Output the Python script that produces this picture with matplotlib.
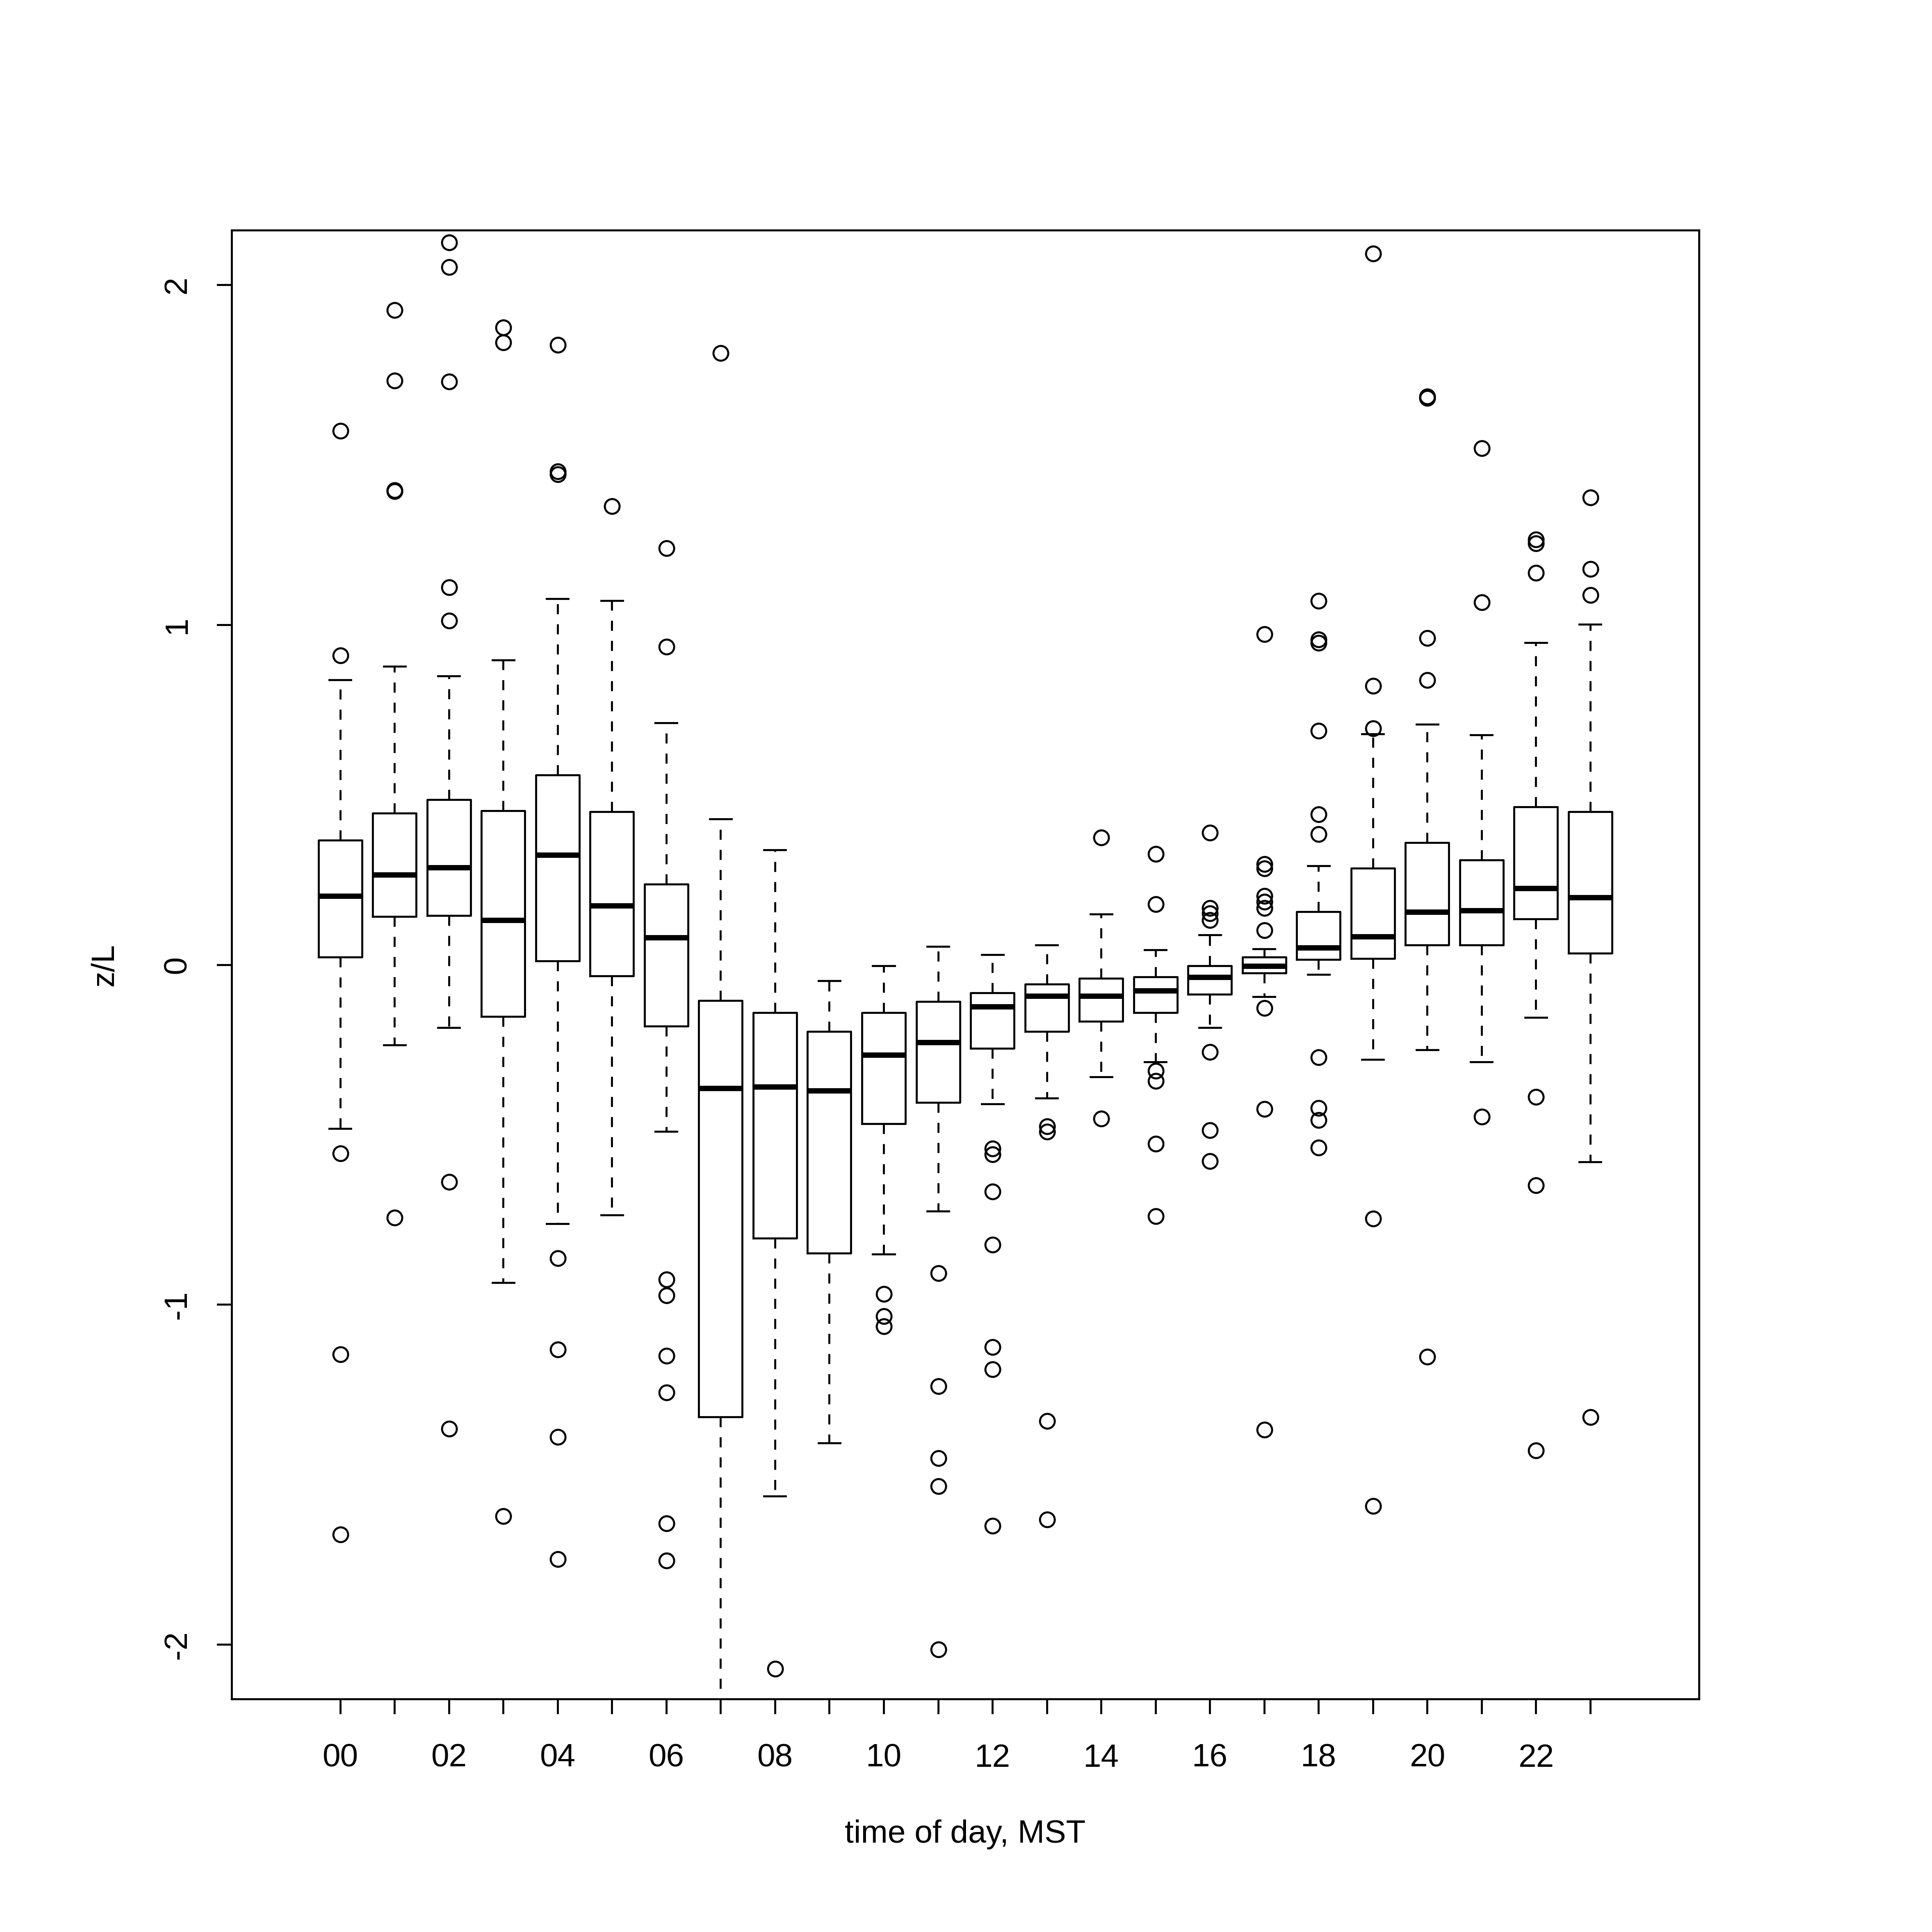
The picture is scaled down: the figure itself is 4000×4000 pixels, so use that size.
import matplotlib
matplotlib.use("Agg")
import matplotlib.pyplot as plt

plt.rcParams["font.family"] = ["Liberation Sans", "DejaVu Sans"]

# hour-of-day groups
hours = list(range(24))
hour_labels = ["%02d" % h for h in hours]

# box statistics per hour
whishi = [0.838, 0.878, 0.849, 0.896, 1.077, 1.070, 0.711, 0.428, 0.337, -0.047, -0.004, 0.054,
          0.029, 0.058, 0.149, 0.044, 0.087, 0.047, 0.290, 0.678, 0.707, 0.675, 0.947, 1.001]
q3 = [0.366, 0.446, 0.486, 0.453, 0.558, 0.450, 0.236, -0.105, -0.141, -0.196, -0.141, -0.109,
      -0.083, -0.058, -0.040, -0.036, -0.004, 0.022, 0.156, 0.283, 0.359, 0.308, 0.464, 0.450]
med = [0.203, 0.265, 0.286, 0.131, 0.323, 0.174, 0.080, -0.363, -0.359, -0.370, -0.265, -0.228,
       -0.123, -0.091, -0.091, -0.076, -0.036, -0.004, 0.051, 0.083, 0.156, 0.160, 0.225, 0.199]
q1 = [0.022, 0.141, 0.145, -0.152, 0.011, -0.033, -0.181, -1.331, -0.805, -0.849, -0.468, -0.406,
      -0.247, -0.196, -0.167, -0.141, -0.087, -0.025, 0.015, 0.018, 0.058, 0.058, 0.134, 0.033]
whislo = [-0.482, -0.236, -0.185, -0.936, -0.762, -0.736, -0.490, -2.30, -1.563, -1.407, -0.852, -0.725,
          -0.410, -0.392, -0.330, -0.286, -0.185, -0.094, -0.029, -0.279, -0.250, -0.286, -0.156, -0.580]

outliers = [
    [0.910, 1.570, -0.555, -1.146, -1.675],
    [1.926, 1.719, 1.396, 1.393, -0.743],
    [2.125, 2.053, 1.715, 1.110, 1.012, -0.638, -1.364],
    [1.875, 1.831, -1.621],
    [1.824, 1.451, 1.443, -0.863, -1.131, -1.389, -1.748],
    [1.349],
    [1.226, 0.936, -0.925, -0.972, -1.150, -1.258, -1.643, -1.752],
    [1.799],
    [-2.071],
    [],
    [-0.968, -1.034, -1.063],
    [-0.907, -1.240, -1.451, -1.534, -2.013],
    [-0.540, -0.558, -0.667, -0.823, -1.124, -1.189, -1.650],
    [-0.475, -0.490, -1.342, -1.632],
    [0.374, -0.453],
    [0.326, 0.178, -0.312, -0.341, -0.526, -0.740],
    [0.388, 0.167, 0.152, 0.131, -0.257, -0.486, -0.577],
    [0.972, 0.297, 0.283, 0.203, 0.185, 0.167, 0.102, -0.127, -0.424, -1.367],
    [1.070, 0.957, 0.947, 0.689, 0.442, 0.384, -0.272, -0.421, -0.457, -0.537],
    [2.092, 0.820, 0.696, -0.747, -1.592],
    [1.672, 1.668, 0.961, 0.838, -1.153],
    [1.520, 1.066, -0.446],
    [1.251, 1.240, 1.153, -0.388, -0.649, -1.429],
    [1.374, 1.164, 1.088, -1.331],
]

stats = []
for i in range(len(hours)):
    stats.append({"med": med[i], "q1": q1[i], "q3": q3[i],
                  "whislo": whislo[i], "whishi": whishi[i], "fliers": outliers[i]})

fig = plt.figure(figsize=(10, 10), dpi=400)
ax = fig.add_axes([0.1199, 0.1205, 0.7596, 0.7602])

lw = 0.75
ax.bxp(stats, positions=hours, widths=0.8, capwidths=0.4,
       boxprops=dict(color="black", linewidth=lw),
       medianprops=dict(color="black", linewidth=2.0, solid_capstyle="butt"),
       whiskerprops=dict(color="black", linewidth=lw, linestyle=(0, (5, 5))),
       capprops=dict(color="black", linewidth=lw),
       flierprops=dict(marker="o", markerfacecolor="none", markeredgecolor="black",
                       markersize=5.5, markeredgewidth=0.75, linestyle="none"))

ax.set_xlim(-2.0, 25.0)
ax.set_ylim(-2.16, 2.16)

ax.set_xticks(hours)
ax.set_xticklabels([lab if h % 2 == 0 else "" for h, lab in zip(hours, hour_labels)])
ax.set_yticks([-2, -1, 0, 1, 2])
ax.set_yticklabels(["-2", "-1", "0", "1", "2"], rotation=90, va="center")

ax.tick_params(axis="both", direction="out", length=5.5, width=lw, labelsize=12, color="black")
ax.tick_params(axis="x", pad=11)
ax.tick_params(axis="y", pad=9)
for s in ax.spines.values():
    s.set_linewidth(lw)
    s.set_color("black")

fig.text(0.4997, 0.0504, "time of day, MST", ha="center", va="center", fontsize=12)
fig.text(0.0542, 0.5006, "z/L", ha="center", va="center", rotation=90, fontsize=12)

fig.savefig("out.png", dpi=400, facecolor="white")
